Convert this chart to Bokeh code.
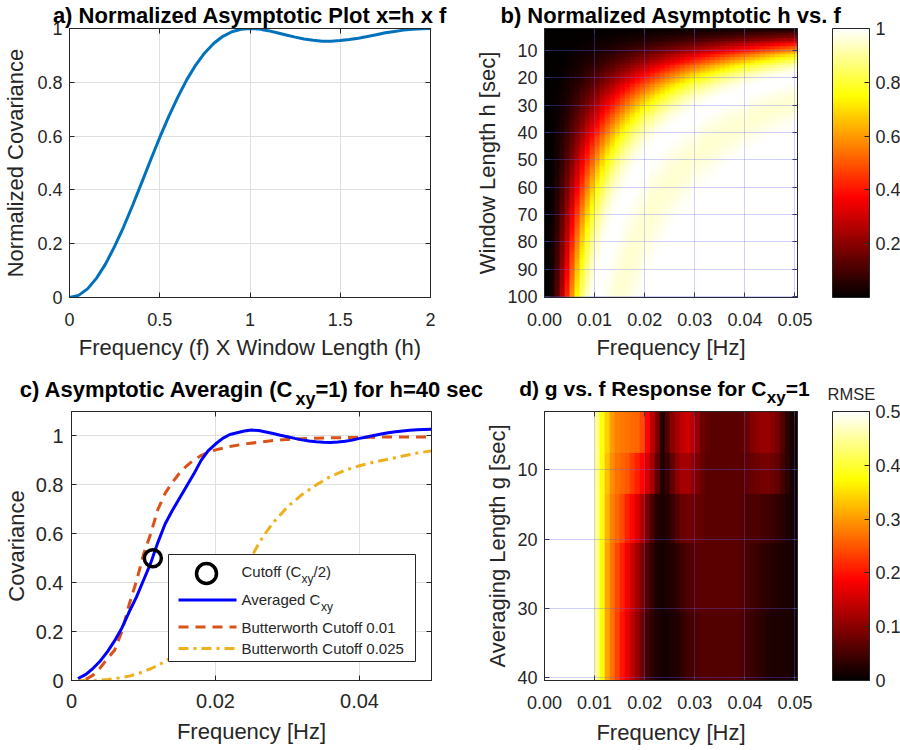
import numpy as np
from bokeh.plotting import figure
from bokeh.layouts import column, row
from bokeh.models import (Range1d, LinearAxis, FixedTicker, CustomJSTickFormatter,
                          LinearColorMapper, ColorBar, Label, BoxAnnotation, Arrow)
from bokeh.embed import file_html
from bokeh.resources import INLINE

FONT = "Liberation Sans"
AX = "#262626"
GRID = "#dfdfdf"

# ---------------- panel a : normalized asymptotic curve ----------------
a_x = [0.00, 0.05, 0.10, 0.15, 0.20, 0.25, 0.30, 0.35, 0.40, 0.45, 0.50,
       0.55, 0.60, 0.65, 0.70, 0.75, 0.80, 0.85, 0.90, 0.95, 1.00,
       1.05, 1.10, 1.15, 1.20, 1.25, 1.30, 1.35, 1.40, 1.45, 1.50,
       1.55, 1.60, 1.65, 1.70, 1.75, 1.80, 1.85, 1.90, 1.95, 2.00]
a_cov = [0.000, 0.008, 0.032, 0.072, 0.125, 0.190, 0.263, 0.343, 0.427, 0.512, 0.595,
         0.673, 0.745, 0.810, 0.865, 0.910, 0.945, 0.971, 0.988, 0.997, 1.000,
         0.998, 0.992, 0.984, 0.976, 0.968, 0.961, 0.956, 0.953, 0.953, 0.955,
         0.959, 0.964, 0.970, 0.977, 0.984, 0.989, 0.994, 0.997, 0.999, 1.000]

# ---------------- panel b : h vs f (value = panel-a curve at h*f) ----------------
b_freq = np.round(np.arange(0, 51) * 0.001, 3)      # Hz, cell left edges
b_window = np.arange(2, 101)                          # sec

# ---------------- panel c : averaging at h = 40 s ----------------
c_avg_f = [0.0009, 0.002, 0.003, 0.004, 0.005, 0.006, 0.007, 0.008, 0.009, 0.010,
           0.011, 0.012, 0.013, 0.014, 0.015, 0.016, 0.017, 0.018, 0.019, 0.020,
           0.021, 0.022, 0.023, 0.024, 0.025, 0.026, 0.027, 0.028, 0.029, 0.030,
           0.031, 0.032, 0.033, 0.034, 0.035, 0.036, 0.037, 0.038, 0.039, 0.040,
           0.041, 0.042, 0.043, 0.044, 0.045, 0.046, 0.047, 0.048, 0.049, 0.050]
c_avg_v = [0.008, 0.025, 0.050, 0.080, 0.118, 0.163, 0.215, 0.280, 0.340, 0.410,
           0.480, 0.565, 0.640, 0.695, 0.745, 0.795, 0.845, 0.900, 0.940, 0.967,
           0.990, 1.006, 1.013, 1.020, 1.024, 1.022, 1.016, 1.010, 1.003, 0.997,
           0.990, 0.984, 0.979, 0.976, 0.974, 0.973, 0.975, 0.978, 0.983, 0.990,
           0.996, 1.002, 1.008, 1.013, 1.017, 1.020, 1.023, 1.025, 1.026, 1.027]
c_bw01_f = [0.002, 0.003, 0.004, 0.005, 0.006, 0.007, 0.008, 0.009, 0.010, 0.011,
            0.012, 0.013, 0.014, 0.015, 0.016, 0.017, 0.018, 0.019, 0.020, 0.022,
            0.024, 0.026, 0.028, 0.030, 0.032, 0.035, 0.040, 0.045, 0.050]
c_bw01_v = [0.005, 0.022, 0.052, 0.090, 0.125, 0.200, 0.310, 0.404, 0.515, 0.600,
            0.700, 0.765, 0.810, 0.848, 0.878, 0.902, 0.920, 0.933, 0.943, 0.957,
            0.967, 0.974, 0.981, 0.986, 0.989, 0.992, 0.994, 0.996, 0.996]
c_bw025_f = [0.001, 0.003, 0.005, 0.007, 0.008, 0.009, 0.010, 0.011, 0.012, 0.013,
             0.014, 0.016, 0.018, 0.020, 0.022, 0.024, 0.025, 0.026, 0.027, 0.028,
             0.030, 0.032, 0.034, 0.036, 0.038, 0.040, 0.042, 0.044, 0.046, 0.048, 0.050]
c_bw025_v = [0.000, 0.000, 0.004, 0.012, 0.018, 0.026, 0.036, 0.048, 0.062, 0.078,
             0.098, 0.150, 0.220, 0.300, 0.380, 0.460, 0.505, 0.560, 0.605, 0.645,
             0.710, 0.760, 0.800, 0.835, 0.860, 0.878, 0.893, 0.905, 0.918, 0.930, 0.939]
c_cut_f = [0.0113]
c_cut_v = [0.50]

# ---------------- panel d : RMSE, g vs f ----------------
d_freq = np.round(np.arange(0, 51) * 0.001, 3)
d_avg_len = np.arange(2, 41)
d_band_edges = [(2, 7), (8, 13), (14, 20), (21, 30), (31, 40)]
d_low = [0.6] * 10   # saturated (white) region below 0.01 Hz
d_band1 = d_low + [0.44, 0.38, 0.34, 0.30, 0.28, 0.275, 0.27, 0.265, 0.26, 0.24, 0.19, 0.14, 0.09,
                   0.025, 0.06, 0.10, 0.12, 0.14, 0.15, 0.14, 0.11, 0.08, 0.07,
                   0.065, 0.065, 0.065, 0.065, 0.065, 0.065, 0.07, 0.08, 0.095, 0.105, 0.11,
                   0.11, 0.10, 0.085, 0.06, 0.03, 0.015, 0.015]
d_band2 = d_low + [0.44, 0.38, 0.33, 0.29, 0.27, 0.26, 0.25, 0.23, 0.21, 0.19, 0.16, 0.12, 0.07,
                   0.025, 0.04, 0.07, 0.10, 0.12, 0.12, 0.11, 0.09, 0.075,
                   0.065, 0.065, 0.065, 0.065, 0.065, 0.065, 0.065, 0.065,
                   0.07, 0.075, 0.08, 0.085, 0.085, 0.08, 0.07, 0.05, 0.03, 0.015, 0.015]
d_band3 = d_low + [0.44, 0.38, 0.32, 0.28, 0.26, 0.24, 0.21, 0.19, 0.16, 0.13, 0.09, 0.05, 0.025,
                   0.02, 0.025, 0.04, 0.06, 0.075, 0.08, 0.08, 0.075, 0.07,
                   0.065, 0.065, 0.065, 0.065, 0.065, 0.065, 0.065, 0.06,
                   0.055, 0.055, 0.055, 0.05, 0.045, 0.04, 0.035, 0.03, 0.02, 0.015, 0.015]
d_band4 = d_low + [0.44, 0.375, 0.31, 0.27, 0.24, 0.21, 0.18, 0.15, 0.12, 0.09, 0.06, 0.035, 0.02,
                   0.015, 0.02, 0.025, 0.035, 0.045, 0.055, 0.06, 0.065, 0.065,
                   0.065, 0.065, 0.065, 0.065, 0.065, 0.065, 0.065, 0.06,
                   0.05, 0.045, 0.04, 0.035, 0.03, 0.025, 0.025, 0.02, 0.02, 0.015, 0.015]
d_band5 = d_low + [0.44, 0.375, 0.31, 0.27, 0.235, 0.20, 0.17, 0.14, 0.11, 0.08, 0.05, 0.03, 0.02,
                   0.015, 0.015, 0.02, 0.025, 0.035, 0.045, 0.05, 0.055, 0.06,
                   0.06, 0.06, 0.06, 0.06, 0.06, 0.06, 0.06, 0.055,
                   0.045, 0.04, 0.035, 0.03, 0.025, 0.02, 0.02, 0.02, 0.02, 0.015, 0.015]
d_bands = [d_band1, d_band2, d_band3, d_band4, d_band5]

# ---------------- colormap (MATLAB "hot") ----------------
def hot_palette(m=256):
    n = int(3 * m / 8)
    out = []
    for i in range(m):
        r = min(1.0, (i + 1) / n)
        g = 0.0 if i < n else min(1.0, (i + 1 - n) / n)
        b = 0.0 if i < 2 * n else (i + 1 - 2 * n) / (m - 2 * n)
        out.append("#%02x%02x%02x" % (round(r * 255), round(g * 255), round(b * 255)))
    return out

HOT = hot_palette()


def fmt_auto():
    return CustomJSTickFormatter(code="return String(Math.round(tick*1000)/1000);")


def fmt_2():
    return CustomJSTickFormatter(code="return tick.toFixed(2);")


def base_fig(width, height, xr, yr, bl, br, bt, bb):
    p = figure(width=width, height=height, x_range=xr, y_range=yr,
               output_backend="svg", toolbar_location=None,
               min_border_left=bl, min_border_right=br,
               min_border_top=bt, min_border_bottom=bb)
    p.outline_line_color = AX
    p.outline_line_width = 1
    p.background_fill_color = "white"
    p.border_fill_color = "white"
    return p


def blank_fig(width, height):
    s = figure(width=width, height=height, x_range=Range1d(0, 1), y_range=Range1d(0, 1),
               output_backend="svg", toolbar_location=None,
               x_axis_location=None, y_axis_location=None,
               min_border_left=0, min_border_right=0, min_border_top=0, min_border_bottom=0)
    s.outline_line_color = None
    s.xgrid.visible = False
    s.ygrid.visible = False
    s.background_fill_color = "white"
    s.border_fill_color = "white"
    return s


def set_title(p, text):
    p.title.text = text
    p.title.align = "center"
    p.title.text_font = FONT
    p.title.text_font_size = "22px"
    p.title.text_font_style = "bold"
    p.title.text_color = "#000000"
    p.title.standoff = 1


def style_axis(ax, ticks, fmt, font_px, std, label, label_std):
    ax.ticker = FixedTicker(ticks=ticks)
    ax.formatter = fmt
    ax.major_label_text_font = FONT
    ax.major_label_text_font_size = f"{font_px}px"
    ax.major_label_text_color = AX
    ax.major_label_standoff = std
    ax.major_tick_in = 5
    ax.major_tick_out = 0
    ax.major_tick_line_color = AX
    ax.minor_tick_line_color = None
    ax.axis_line_color = AX
    ax.axis_label = label
    ax.axis_label_text_font = FONT
    ax.axis_label_text_font_size = "22px"
    ax.axis_label_text_font_style = "normal"
    ax.axis_label_text_color = AX
    ax.axis_label_standoff = label_std


def box_axes(p, xticks, yticks):
    for loc, ticks in (("above", xticks), ("right", yticks)):
        ax = LinearAxis(ticker=FixedTicker(ticks=ticks),
                        formatter=CustomJSTickFormatter(code="return '';"),
                        major_label_text_font_size="1px", major_label_standoff=0,
                        major_tick_in=5, major_tick_out=0, major_tick_line_color=AX,
                        minor_tick_line_color=None, axis_line_color=AX)
        p.add_layout(ax, loc)


def grid_style(p, color, alpha, overlay=False):
    for g in (p.xgrid[0], p.ygrid[0]):
        g.grid_line_color = color
        g.grid_line_alpha = alpha
        g.grid_line_width = 1
        if overlay:
            g.level = "overlay"


def lab(p, x, y, text, size, bold=False, align="left", baseline="alphabetic", color=AX):
    p.add_layout(Label(x=x, y=y, x_units="screen", y_units="screen", text=text,
                       text_font=FONT, text_font_size=f"{size}px",
                       text_font_style="bold" if bold else "normal",
                       text_align=align, text_baseline=baseline, text_color=color))


def hot_colorbar(mapper, ticks, location):
    return ColorBar(color_mapper=mapper, location=location, width=37, height=269,
                    padding=0, margin=0, ticker=FixedTicker(ticks=ticks),
                    formatter=fmt_auto(), major_label_text_font=FONT,
                    major_label_text_font_size="18px", major_label_text_color=AX,
                    label_standoff=6, major_tick_in=5, major_tick_out=0,
                    major_tick_line_color=AX, bar_line_color=AX,
                    border_line_color=None, background_fill_alpha=0)


# ======================= panel a =======================
a_xt = [0, 0.5, 1, 1.5, 2]
a_yt = [0, 0.2, 0.4, 0.6, 0.8, 1]
pa = base_fig(450, 375, Range1d(0, 2), Range1d(0, 1), 68, 20, 28, 78)
set_title(pa, "a) Normalized Asymptotic Plot x=h x f")
style_axis(pa.xaxis[0], a_xt, fmt_auto(), 18, 15, "Frequency (f) X Window Length (h)", 6)
style_axis(pa.yaxis[0], a_yt, fmt_auto(), 18, 7, "Normalized Covariance", 6)
box_axes(pa, a_xt, a_yt)
grid_style(pa, GRID, 1.0)
pa.line(a_x, a_cov, line_color="#0072BD", line_width=3)

# ======================= panel b =======================
b_grid = np.array([[np.interp(h * f, a_x, a_cov, right=1.0) for f in b_freq] for h in b_window])
cm_b = LinearColorMapper(palette=HOT, low=0, high=1)
b_xt = [0.0, 0.01, 0.02, 0.03, 0.04, 0.05]
b_yt = [10, 20, 30, 40, 50, 60, 70, 80, 90, 100]
pb = base_fig(450, 375, Range1d(0, 0.0505), Range1d(100.4, 2.0), 94, 103, 28, 78)
set_title(pb, "b) Normalized Asymptotic h vs. f")
pb.image(image=[b_grid], x=0, y=1.5, dw=0.051, dh=99, color_mapper=cm_b)
style_axis(pb.xaxis[0], b_xt, fmt_2(), 18, 15, "Frequency [Hz]", 6)
style_axis(pb.yaxis[0], b_yt, fmt_auto(), 18, 7, "Window Length h [sec]", 4)
box_axes(pb, b_xt, b_yt)
grid_style(pb, "#6464ff", 0.3, overlay=True)
pb.add_layout(hot_colorbar(cm_b, [0.2, 0.4, 0.6, 0.8, 1.0], (253 + 35, 0)))

# ======================= title strip, row 2 (titles with subscripts) =======================
t2 = blank_fig(814, 34)
lab(t2, 293.5, 33, "c) Asymptotic Averagin (C", 22, bold=True, align="right",
    baseline="top", color="#000000")
lab(t2, 295, 21, "xy", 18, bold=True, baseline="top", color="#000000")
lab(t2, 315, 33, "=1) for h=40 sec", 22, bold=True, baseline="top", color="#000000")
lab(t2, 766, 33, "d) g vs. f Response for C", 21, bold=True, align="right",
    baseline="top", color="#000000")
lab(t2, 766.3, 21.4, "xy", 17, bold=True, baseline="top", color="#000000")
lab(t2, 785.2, 33, "=1", 21, bold=True, baseline="top", color="#000000")

# ======================= panel c =======================
c_xt = [0, 0.02, 0.04]
c_yt = [0, 0.2, 0.4, 0.6, 0.8, 1]
pc = base_fig(450, 341, Range1d(0, 0.05), Range1d(0, 1.1), 68, 19, 2, 69)
style_axis(pc.xaxis[0], c_xt, fmt_auto(), 20, 13, "Frequency [Hz]", 8)
style_axis(pc.yaxis[0], c_yt, fmt_auto(), 20, 8, "Covariance", 4)
box_axes(pc, c_xt, c_yt)
grid_style(pc, GRID, 1.0)
pc.line(c_bw025_f, c_bw025_v, line_color="#EDB120", line_width=3, line_dash="10 5 3 5")
pc.line(c_bw01_f, c_bw01_v, line_color="#D95319", line_width=3, line_dash="10 7")
pc.line(c_avg_f, c_avg_v, line_color="#0000FF", line_width=3)
pc.scatter(c_cut_f, c_cut_v, marker="circle", size=17, fill_color=None,
           line_color="#000000", line_width=3.5)
# legend (drawn manually to allow subscripts)
pc.add_layout(BoxAnnotation(left=97, right=344, bottom=19, top=126,
                            left_units="screen", right_units="screen",
                            top_units="screen", bottom_units="screen",
                            fill_color="white", fill_alpha=1.0,
                            line_color=AX, line_width=1, line_alpha=1.0))
pc.add_layout(BoxAnnotation(left=125, right=145, bottom=97, top=117,
                            left_units="screen", right_units="screen",
                            top_units="screen", bottom_units="screen",
                            border_radius=10, fill_color=None, fill_alpha=0,
                            line_color="#000000", line_width=3.5, line_alpha=1.0))
for yy, col, dash in ((80.5, "#0000FF", "solid"), (53.5, "#D95319", "10 7"),
                      (32, "#EDB120", "10 5 3 5")):
    pc.add_layout(Arrow(end=None, x_start=107, y_start=yy, x_end=165, y_end=yy,
                        start_units="screen", end_units="screen",
                        line_color=col, line_width=3, line_dash=dash))
lab(pc, 170, 109, "Cutoff (C", 15, baseline="middle")
lab(pc, 230, 102, "xy", 12, baseline="middle")
lab(pc, 242, 109, "/2)", 15, baseline="middle")
lab(pc, 170, 81, "Averaged C", 15, baseline="middle")
lab(pc, 249.5, 74, "xy", 12, baseline="middle")
lab(pc, 170, 53.5, "Butterworth Cutoff 0.01", 15, baseline="middle")
lab(pc, 170, 32, "Butterworth Cutoff 0.025", 15, baseline="middle")

# ======================= panel d =======================
d_rows = []
for g in d_avg_len:
    for bi, (g0, g1) in enumerate(d_band_edges):
        if g0 <= g <= g1:
            d_rows.append(d_bands[bi])
            break
d_grid = np.array(d_rows, dtype=float)
cm_d = LinearColorMapper(palette=HOT, low=0, high=0.5)
d_xt = [0.0, 0.01, 0.02, 0.03, 0.04, 0.05]
d_yt = [10, 20, 30, 40]
pd_ = base_fig(364, 341, Range1d(0, 0.0505), Range1d(40.4, 1.6), 94, 17, 2, 70)
pd_.image(image=[d_grid], x=0, y=1.5, dw=0.051, dh=39, color_mapper=cm_d)
style_axis(pd_.xaxis[0], d_xt, fmt_2(), 18, 15, "Frequency [Hz]", 8)
style_axis(pd_.yaxis[0], d_yt, fmt_auto(), 18, 7, "Averaging Length g [sec]", 4)
box_axes(pd_, d_xt, d_yt)
grid_style(pd_, "#6464ff", 0.3, overlay=True)

# colour bar column of panel d (with the RMSE caption)
cbd = blank_fig(86, 375)
lab(cbd, 13, 366, "RMSE", 16.5, baseline="top", color=AX)
cbd.add_layout(hot_colorbar(cm_d, [0, 0.1, 0.2, 0.3, 0.4, 0.5], (18, 70)))

layout = column(row(pa, pb),
                row(column(t2, row(pc, pd_)), cbd))
open("out.html", "w").write(file_html(layout, INLINE))
